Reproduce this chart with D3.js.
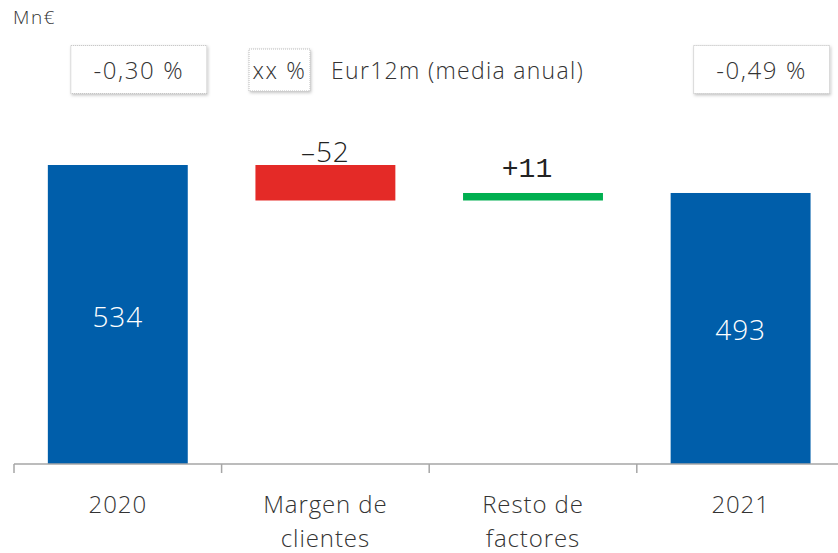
<!DOCTYPE html>
<html>
<head>
<meta charset="utf-8">
<script src="https://cdn.jsdelivr.net/npm/d3@7"></script>
<style>
  body { margin: 0; background: #fff; }
  svg text { font-family: "Open Sans", Lato, sans-serif; font-weight: 300; fill: #333; letter-spacing: 0.9px; }
</style>
</head>
<body>
<svg id="the-svg" width="838" height="553"></svg>
<script>
var categories = ["2020", "Margen de\nclientes", "Resto de\nfactores", "2021"];
var deltas = [534, -52, 11, 493];
var kinds = ["total", "delta", "delta", "total"];
var valueLabels = ["534", "–52", "+11", "493"];
var rateBoxes = [{ idx: 0, text: "-0,30 %" }, { idx: 3, text: "-0,49 %" }];
var unitLabel = "Mn€";
var legendKey = "xx %";
var legendText = "Eur12m (media anual)";

var colors = { total: "#005EAA", down: "#E42A27", up: "#00AF50" };

var svg = d3.select("#the-svg");

// build waterfall segments
var running = 0;
var bars = categories.map(function(c, i) {
    var d = { cat: c, label: valueLabels[i], kind: kinds[i], delta: deltas[i] };
    if (kinds[i] == "total") {
        d.y0 = 0; d.y1 = deltas[i]; running = deltas[i];
        d.color = colors.total;
    } else {
        d.y0 = running; d.y1 = running + deltas[i]; running = d.y1;
        d.color = deltas[i] < 0 ? colors.down : colors.up;
    }
    return d;
});

var x = d3.scaleBand()
    .domain(categories)
    .range([14, 844.4])
    .paddingInner(0.326)
    .paddingOuter(0.163);

// value axis is truncated in the original chart
var y = d3.scaleLinear()
    .domain([96, 534])
    .range([464, 165]);

var yc = function(v) { return Math.min(y(v), y.range()[0]); };

svg.selectAll(".bar").data(bars).enter().append("rect")
    .attr("class", "bar")
    .attr("x", function(d) { return x(d.cat); })
    .attr("width", x.bandwidth())
    .attr("y", function(d) { return yc(Math.max(d.y0, d.y1)); })
    .attr("height", function(d) { return yc(Math.min(d.y0, d.y1)) - yc(Math.max(d.y0, d.y1)); })
    .attr("fill", function(d) { return d.color; });

// x axis
var axisG = svg.append("g").attr("transform", "translate(0,464)");
axisG.append("line")
    .attr("x1", 14).attr("x2", 838)
    .attr("stroke", "#A6A6A6").attr("stroke-width", 1.5);
axisG.selectAll(".tick").data(categories).enter().append("line")
    .attr("x1", function(d) { return x(d) - x.step() * x.paddingInner() / 2; })
    .attr("x2", function(d) { return x(d) - x.step() * x.paddingInner() / 2; })
    .attr("y1", 0).attr("y2", 9)
    .attr("stroke", "#A6A6A6").attr("stroke-width", 1.5);

var catText = svg.selectAll(".cat").data(categories).enter().append("text")
    .attr("class", "cat")
    .attr("text-anchor", "middle")
    .attr("font-size", 24)
    .attr("x", function(d) { return x(d) + x.bandwidth() / 2; })
    .attr("y", 513);
catText.selectAll("tspan").data(function(d) { return d.split("\n"); }).enter().append("tspan")
    .attr("x", function() { var p = d3.select(this.parentNode).datum(); return x(p) + x.bandwidth() / 2; })
    .attr("dy", function(d, i) { return i == 0 ? 0 : 34; })
    .text(function(d) { return d; });

// value labels
svg.selectAll(".val").data(bars).enter().append("text")
    .attr("class", "val")
    .attr("text-anchor", "middle")
    .attr("font-size", 28)
    .attr("x", function(d) {
        var cx = x(d.cat) + x.bandwidth() / 2;
        return d.kind == "delta" && d.delta > 0 ? cx - 6 : cx;
    })
    .attr("y", function(d) {
        if (d.kind == "total") return (yc(d.y1) + yc(0)) / 2 + 12;
        return yc(Math.max(d.y0, d.y1)) - (d.delta < 0 ? 3 : 16);
    })
    .style("font-family", function(d) { return d.kind == "delta" && d.delta > 0 ? "'Liberation Mono', monospace" : null; })
    .style("font-weight", function(d) { return d.kind == "delta" && d.delta > 0 ? 400 : null; })
    .style("letter-spacing", function(d) { return d.kind == "delta" && d.delta > 0 ? "0px" : null; })
    .style("fill", function(d) { return d.kind == "total" ? "#fff" : "#222"; })
    .text(function(d) { return d.label; });

svg.append("text")
    .attr("x", 13).attr("y", 24)
    .attr("font-size", 19)
    .style("letter-spacing", "1.5px")
    .text(unitLabel);

// dotted shadowed boxes
var defs = svg.append("defs");
var f = defs.append("filter").attr("id", "sh").attr("x", "-20%").attr("y", "-20%").attr("width", "140%").attr("height", "150%");
f.append("feDropShadow").attr("dx", 1).attr("dy", 1.5).attr("stdDeviation", 1.5).attr("flood-color", "#000").attr("flood-opacity", 0.25);

var drawBox = function(cx, cy, w, h, txt, size) {
    svg.append("rect")
        .attr("x", cx - w / 2).attr("y", cy - h / 2)
        .attr("width", w).attr("height", h)
        .attr("fill", "#fff")
        .attr("stroke", "#BBBBBB").attr("stroke-width", 1)
        .attr("stroke-dasharray", "1,1")
        .attr("filter", "url(#sh)");
    svg.append("text")
        .attr("x", cx).attr("y", cy + 9)
        .attr("text-anchor", "middle")
        .attr("font-size", size)
        .style("letter-spacing", "1.6px")
        .text(txt);
};

rateBoxes.forEach(function(b) {
    drawBox(x(categories[b.idx]) + x.bandwidth() / 2 + 21, 69.5, 136, 48, b.text, 24);
});
drawBox(279.5, 70, 61, 42, legendKey, 23);
svg.append("text")
    .attr("x", 331).attr("y", 79)
    .attr("font-size", 23)
    .style("letter-spacing", "1.3px")
    .text(legendText);
</script>
</body>
</html>
